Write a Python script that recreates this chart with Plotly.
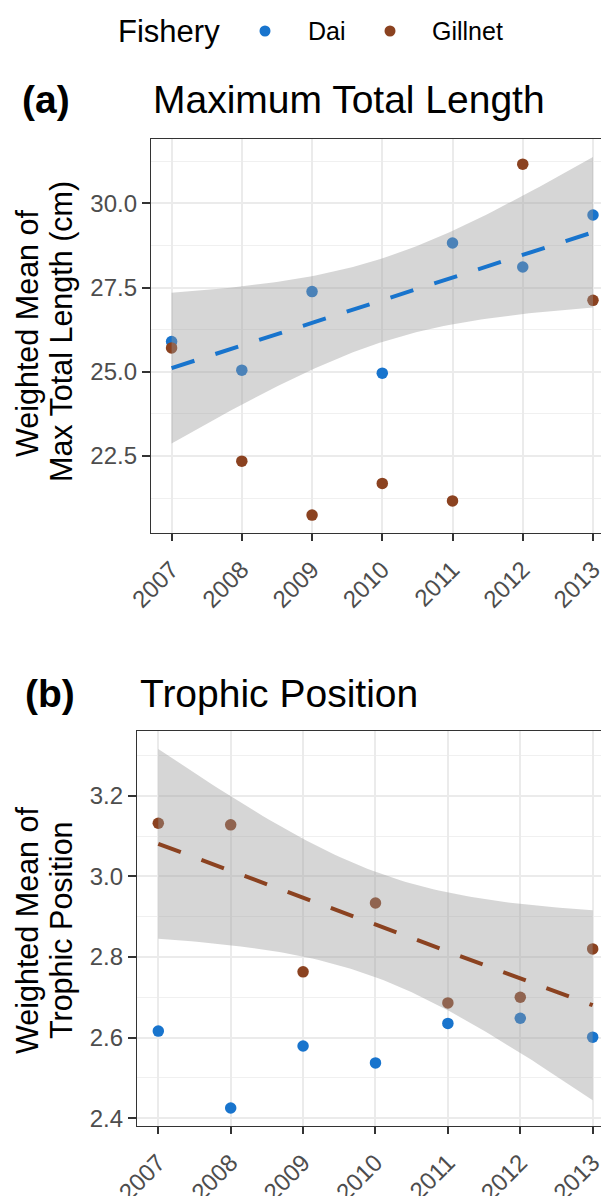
import numpy as np
import plotly.graph_objects as go

# ---------------- data ----------------
years = [2007, 2008, 2009, 2010, 2011, 2012, 2013]
year_labels = ["2007", "2008", "2009", "2010", "2011", "2012", "2013"]

dai_length = [25.90, 25.05, 27.38, 24.96, 28.82, 28.11, 29.65]
gillnet_length = [25.71, 22.35, 20.75, 21.69, 21.17, 31.16, 27.12]

dai_trophic = [2.616, 2.425, 2.579, 2.537, 2.635, 2.648, 2.601]
gillnet_trophic = [3.132, 3.128, 2.763, 2.934, 2.686, 2.700, 2.820]

series_names = ["Dai", "Gillnet"]

# ---------------- style ----------------
DAI = "#1874CD"
GILL = "#8B4220"
RIBBON = "rgba(153,153,153,0.4)"
GRID = "#EBEBEB"
MINOR = "#F0F0F0"
BORDER = "#333333"
TICKTXT = "#4D4D4D"
FONT = "Liberation Sans, Arial, sans-serif"

W, H = 609, 1196
OFF = 8  # default page body margin of the written HTML


def px(x):
    return (x - OFF) / W


def py(y):
    return 1 - (y - OFF) / H


def lm_band(x, y, n=80):
    """Linear fit with 95% confidence band (as geom_smooth(method='lm'))."""
    x = np.asarray(x, float)
    y = np.asarray(y, float)
    b1, b0 = np.polyfit(x, y, 1)
    xs = np.linspace(x.min(), x.max(), n)
    fit = b0 + b1 * xs
    resid = y - (b0 + b1 * x)
    dof = len(x) - 2
    s = np.sqrt((resid ** 2).sum() / dof)
    se = s * np.sqrt(1 / len(x) + (xs - x.mean()) ** 2 / ((x - x.mean()) ** 2).sum())
    t = 2.570582  # t quantile 0.975, 5 df
    return xs, fit, fit - t * se, fit + t * se


def yrange(values, lo_band, hi_band):
    lo = min(min(values), float(np.min(lo_band)))
    hi = max(max(values), float(np.max(hi_band)))
    pad = 0.05 * (hi - lo)
    return [lo - pad, hi + pad]


fig = go.Figure()

panels = [
    dict(xa="x", ya="y", dai=dai_length, gill=gillnet_length, fit_on="dai"),
    dict(xa="x2", ya="y2", dai=dai_trophic, gill=gillnet_trophic, fit_on="gill"),
]

ranges = []
for p in panels:
    fit_vals = p["dai"] if p["fit_on"] == "dai" else p["gill"]
    fit_col = DAI if p["fit_on"] == "dai" else GILL
    xs, fit, lo, hi = lm_band(years, fit_vals)
    ranges.append(yrange(p["dai"] + p["gill"], lo, hi))

    fig.add_trace(go.Scatter(x=years, y=p["dai"], mode="markers", name=series_names[0],
                             marker=dict(color=DAI, size=11.5), xaxis=p["xa"], yaxis=p["ya"],
                             showlegend=False))
    fig.add_trace(go.Scatter(x=years, y=p["gill"], mode="markers", name=series_names[1],
                             marker=dict(color=GILL, size=11.5), xaxis=p["xa"], yaxis=p["ya"],
                             showlegend=False))
    fig.add_trace(go.Scatter(x=list(xs) + list(xs[::-1]), y=list(hi) + list(lo[::-1]),
                             mode="lines", fill="toself", fillcolor=RIBBON,
                             line=dict(width=0), hoverinfo="skip",
                             xaxis=p["xa"], yaxis=p["ya"], showlegend=False))
    fig.add_trace(go.Scatter(x=xs, y=fit, mode="lines",
                             line=dict(color=fit_col, width=4, dash="24px,22px"),
                             xaxis=p["xa"], yaxis=p["ya"], showlegend=False))

common_x = dict(
    tickmode="array", tickvals=years, ticktext=year_labels, tickangle=-45,
    ticks="outside", ticklen=7, tickwidth=1.6, tickcolor=BORDER,
    tickfont=dict(family=FONT, size=24, color=TICKTXT), ticklabelstandoff=5,
    showline=True, linecolor=BORDER, linewidth=1.3, mirror=True,
    showgrid=True, gridcolor=GRID, gridwidth=1.5, zeroline=False,
    automargin=False,
)
common_y = dict(
    ticks="outside", ticklen=8, tickwidth=1.6, tickcolor=BORDER,
    tickfont=dict(family=FONT, size=24, color=TICKTXT),
    showline=True, linecolor=BORDER, linewidth=1.3, mirror=False,
    showgrid=True, gridcolor=GRID, gridwidth=1.5, zeroline=False,
    tickformat=".1f", tick0=0, automargin=False,
)

fig.update_layout(
    width=W, height=H, autosize=False,
    margin=dict(l=0, r=0, t=0, b=0, pad=0),
    paper_bgcolor="white", plot_bgcolor="white",
    font=dict(family=FONT, color="black"),
    showlegend=False,
    xaxis=dict(domain=[px(151), 1], range=[2006.707, 2013.342], anchor="y", **common_x),
    yaxis=dict(domain=[py(533), py(139)], range=ranges[0], anchor="x", dtick=2.5,
               minor=dict(dtick=1.25, tick0=0, showgrid=True, gridcolor=MINOR, gridwidth=1),
               **common_y),
    xaxis2=dict(domain=[px(137), 1], range=[2006.706, 2013.336], anchor="y2", **common_x),
    yaxis2=dict(domain=[py(1126), py(731)], range=ranges[1], anchor="x2", dtick=0.2,
                minor=dict(dtick=0.1, tick0=0, showgrid=True, gridcolor=MINOR, gridwidth=1),
                **common_y),
)

ann = []
# legend
ann.append(dict(text="Fishery", x=px(116), y=py(31), xanchor="left", yanchor="middle",
                font=dict(size=31, color="black")))
ann.append(dict(text=series_names[0], x=px(306), y=py(31), xanchor="left", yanchor="middle",
                font=dict(size=25, color="black")))
ann.append(dict(text=series_names[1], x=px(430), y=py(31), xanchor="left", yanchor="middle",
                font=dict(size=25, color="black")))
# titles
ann.append(dict(text="<b>(a)</b>", x=px(20), y=py(99), xanchor="left", yanchor="middle",
                font=dict(size=39, color="black")))
ann.append(dict(text="Maximum Total Length", x=px(151), y=py(99), xanchor="left", yanchor="middle",
                font=dict(size=39, color="black")))
ann.append(dict(text="<b>(b)</b>", x=px(23), y=py(694), xanchor="left", yanchor="middle",
                font=dict(size=39, color="black")))
ann.append(dict(text="Trophic Position", x=px(138), y=py(694), xanchor="left", yanchor="middle",
                font=dict(size=39, color="black")))
# y-axis titles
ann.append(dict(text="Weighted Mean of", x=px(27), y=py(333), textangle=-90,
                xanchor="center", yanchor="middle", font=dict(size=30.5, color="black")))
ann.append(dict(text="Max Total Length (cm)", x=px(61), y=py(332), textangle=-90,
                xanchor="center", yanchor="middle", font=dict(size=30.5, color="black")))
ann.append(dict(text="Weighted Mean of", x=px(27), y=py(930), textangle=-90,
                xanchor="center", yanchor="middle", font=dict(size=30.5, color="black")))
ann.append(dict(text="Trophic Position", x=px(61), y=py(930), textangle=-90,
                xanchor="center", yanchor="middle", font=dict(size=30.5, color="black")))
for a in ann:
    a.update(xref="paper", yref="paper", showarrow=False)
fig.update_layout(annotations=ann)

# legend keys
for cx, col in [(265, DAI), (390, GILL)]:
    fig.add_shape(type="circle", xref="paper", yref="paper",
                  x0=px(cx - 5.5), x1=px(cx + 5.5), y0=py(31 + 5.5), y1=py(31 - 5.5),
                  fillcolor=col, line=dict(width=0))

fig.write_html("out.html")
